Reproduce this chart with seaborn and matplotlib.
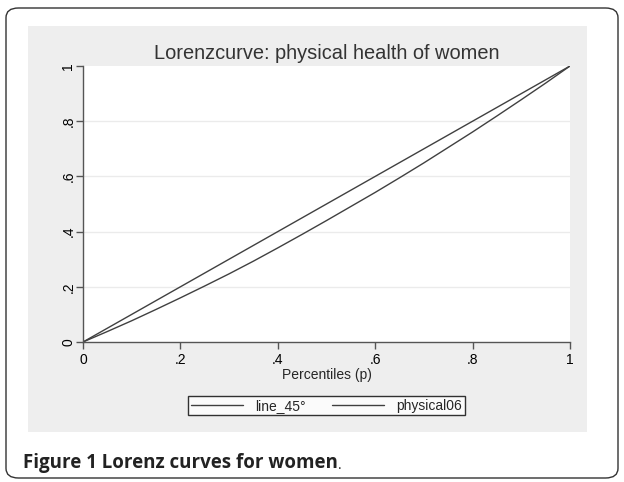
import numpy as np
import pandas as pd
import matplotlib
matplotlib.use('Agg')
import matplotlib.pyplot as plt
import seaborn as sns
from matplotlib.patches import FancyBboxPatch, Rectangle

# dati
percentiles = [0.0, 0.05, 0.1, 0.15, 0.2, 0.25, 0.3, 0.35, 0.4, 0.45, 0.5,
               0.55, 0.6, 0.65, 0.7, 0.75, 0.8, 0.85, 0.9, 0.95, 1.0]
line_45 = [0.0, 0.05, 0.1, 0.15, 0.2, 0.25, 0.3, 0.35, 0.4, 0.45, 0.5,
           0.55, 0.6, 0.65, 0.7, 0.75, 0.8, 0.85, 0.9, 0.95, 1.0]
physical06 = [0.0, 0.038, 0.077, 0.118, 0.160, 0.203, 0.247, 0.293, 0.341, 0.390, 0.440,
              0.491, 0.542, 0.595, 0.649, 0.705, 0.761, 0.819, 0.878, 0.938, 1.0]
series_names = ['line_45°', 'physical06']
tick_values = [0, 0.2, 0.4, 0.6, 0.8, 1]
tick_labels = ['0', '.2', '.4', '.6', '.8', '1']

df = pd.DataFrame({
    'p': percentiles * 2,
    'L': line_45 + physical06,
    'serie': [series_names[0]] * len(percentiles) + [series_names[1]] * len(percentiles),
})

sns.set_style('white')
plt.rcParams['font.family'] = ['Liberation Sans', 'DejaVu Sans']

W, H = 624, 482
fig = plt.figure(figsize=(W / 100, H / 100), dpi=100)

# cornice arrotondata esterna
fig.patches.append(FancyBboxPatch((6 / W, 4 / H), 612 / W, 470 / H,
                                  boxstyle='round,pad=0,rounding_size=0.02',
                                  transform=fig.transFigure, fill=False,
                                  edgecolor='#333333', linewidth=1.0, zorder=-10))
# regione grigia (stile Stata)
fig.patches.append(Rectangle((28 / W, 1 - 432 / H), 559 / W, 406 / H,
                             transform=fig.transFigure, facecolor='#eeeeee',
                             edgecolor='none', zorder=-10))

ax = fig.add_axes([83 / W, 1 - 342 / H, 487 / W, 276 / H])
ax.set_facecolor('white')

sns.lineplot(data=df, x='p', y='L', hue='serie', palette=['#404040', '#404040'],
             linewidth=1.0, ax=ax, legend=True)

ax.set_xlim(0, 1)
ax.set_ylim(0, 1)
ax.set_xticks(tick_values)
ax.set_xticklabels(tick_labels, fontsize=10)
ax.set_yticks(tick_values)
ax.set_yticklabels(tick_labels, fontsize=10, rotation=90, va='center')
for y in tick_values[1:-1]:
    ax.axhline(y, color='#ebebeb', linewidth=1.0, zorder=0)

for s in ['top', 'right']:
    ax.spines[s].set_visible(False)
for s in ['left', 'bottom']:
    ax.spines[s].set_color('#555555')
    ax.spines[s].set_linewidth(1.0)
ax.tick_params(axis='both', direction='out', length=5, width=1.0, color='#555555',
               labelcolor='black', bottom=True, left=True)
ax.tick_params(axis='x', pad=3)
ax.tick_params(axis='y', pad=0.5)

ax.set_xlabel('Percentiles (p)', fontsize=10, labelpad=1)
ax.set_ylabel('')
ax.set_title('Lorenzcurve: physical health of women', fontsize=14.4,
             color='#333333', pad=5)

handles, labels = ax.get_legend_handles_labels()
leg = ax.legend(handles, labels, loc='upper center', bbox_to_anchor=(0.5, -0.195),
                ncol=2, fontsize=10, frameon=True, fancybox=False,
                edgecolor='black', handlelength=3.7, columnspacing=1.9,
                handletextpad=0.9, borderpad=0.2, borderaxespad=0)
leg.get_frame().set_linewidth(1.0)

# didascalia
cap = fig.text(23 / W, 1 - 468 / H, 'Figure 1 Lorenz curves for women',
               fontsize=13.5, fontweight='bold', family=['Open Sans', 'DejaVu Sans'],
               color='#222222', va='baseline')
ax.annotate('.', xy=(1, 0), xycoords=cap, va='bottom', fontsize=10,
            family=['Open Sans', 'DejaVu Sans'], color='#222222', annotation_clip=False)

fig.savefig('out.png', dpi=100)
